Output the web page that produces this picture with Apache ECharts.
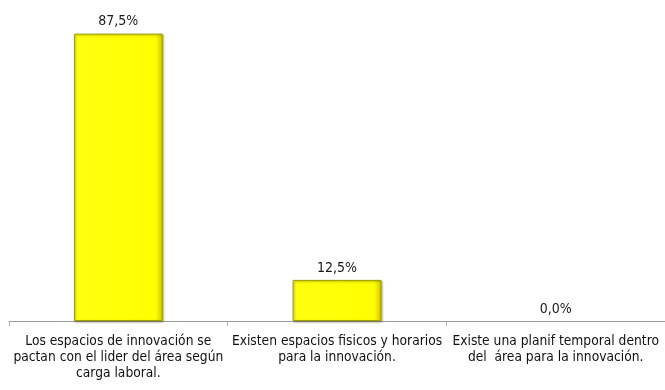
<!DOCTYPE html>
<html>
<head>
<meta charset="utf-8">
<script src="https://cdn.jsdelivr.net/npm/echarts@6/dist/echarts.min.js"></script>
<style>html,body{margin:0;padding:0;background:#fff}#c{width:665px;height:390px}</style>
</head>
<body>
<div id="c"></div>
<script>
// Categories and percentage values for each answer
var categories = [
  'Los espacios de innovación se\npactan con el lider del área según\ncarga laboral.',
  'Existen espacios fisicos y horarios\npara la innovación.',
  'Existe una planif temporal dentro\ndel  área para la innovación.'
];
var values = [87.5, 12.5, 0.0];

var FONT = '"Liberation Sans Narrow", "DejaVu Sans Condensed", "Liberation Sans", sans-serif';

// zero-height bars get no outline so nothing shows on the axis
var barData = values.map(function (v) {
  return v === 0
    ? { value: v, itemStyle: { borderWidth: 0, shadowColor: 'rgba(0,0,0,0)', opacity: 0 } }
    : v;
});

var chart = echarts.init(document.getElementById('c'));
chart.setOption({
  animation: false,
  grid: { left: 9, right: 0, top: 9, bottom: 69, containLabel: false },
  xAxis: {
    type: 'category',
    data: categories,
    axisLine: { lineStyle: { color: '#9a9a9a', width: 1 } },
    axisTick: { show: true, length: 5, lineStyle: { color: '#b0b0b0' } },
    axisLabel: {
      interval: 0, color: '#111', fontFamily: FONT, fontSize: 13.7,
      lineHeight: 16, margin: 12
    }
  },
  yAxis: {
    type: 'value', min: 0, max: 95, show: false,
    splitLine: { show: false }
  },
  series: [{
    type: 'bar',
    data: barData,
    barWidth: '40.6%',
    itemStyle: {
      color: new echarts.graphic.LinearGradient(0, 0, 1, 0, [
        { offset: 0, color: '#ffff10' },
        { offset: 0.92, color: '#ffff00' },
        { offset: 1, color: '#c8c800' }
      ]),
      borderColor: '#a0a000',
      borderWidth: 1,
      shadowColor: 'rgba(80,80,0,0.45)',
      shadowBlur: 2,
      shadowOffsetX: 1,
      shadowOffsetY: 1
    },
    label: {
      show: true, position: 'top', distance: 5,
      color: '#1a1a1a', fontFamily: FONT, fontSize: 14, opacity: 1,
      formatter: function (p) { return p.value.toFixed(1).replace('.', ',') + '%'; }
    }
  }]
});
</script>
</body>
</html>
